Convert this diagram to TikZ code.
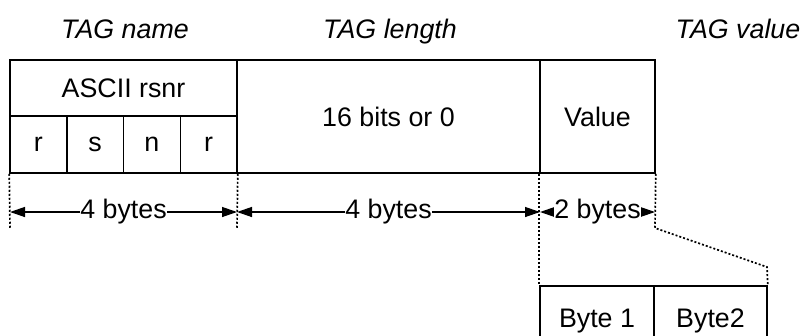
\documentclass[tikz,border=0pt]{standalone}
\usepackage{fontspec}
\setmainfont{Liberation Sans}
\usetikzlibrary{arrows.meta}
\begin{document}
\begin{tikzpicture}[x=1pt,y=-1pt,
  every node/.style={font=\fontsize{26.8}{30}\selectfont},
  cell/.style={draw,line width=1.5pt,rectangle,inner sep=0pt,anchor=center},
  title/.style={font=\fontsize{26.8}{30}\selectfont\itshape,inner sep=0pt},
  guide/.style={line width=1.7pt,dash pattern=on 2pt off 2pt},
  dimarrow/.style={line width=1.3pt,{Triangle[length=15pt,width=10pt]}-{Triangle[length=15pt,width=10pt]}},
  dimlabel/.style={fill=white,inner sep=0pt}]
\useasboundingbox (0,0) rectangle (802,335);
\clip (0,0) rectangle (802,335);
% titles
\node[title,anchor=base] (tname) at (125,38) {TAG name};
\node[title,anchor=base] (tlen) at (390,38) {TAG length};
\node[title,anchor=base] (tval) at (738,38) {TAG value};
% boxes
\node[cell,minimum width=227pt,minimum height=56pt] (ascii) at (123.5,88) {ASCII rsnr};
\node[cell,minimum width=56.75pt,minimum height=57pt] (c1) at (38.375,144.5) {r};
\node[cell,minimum width=56.75pt,minimum height=57pt] (c2) at (95.125,144.5) {s};
\node[cell,minimum width=56.75pt,minimum height=57pt] (c3) at (151.875,144.5) {n};
\node[cell,minimum width=56.75pt,minimum height=57pt] (c4) at (208.625,144.5) {r};
\node[cell,minimum width=303pt,minimum height=113pt] (len) at (388.5,116.5) {16 bits or 0};
\node[cell,minimum width=115pt,minimum height=113pt] (val) at (597.5,116.5) {Value};
\node[cell,minimum width=114pt,minimum height=70pt] (b1) at (597,321) {Byte 1};
\node[cell,minimum width=113pt,minimum height=70pt] (b2) at (710.5,321) {Byte2};
% guide coordinates
\coordinate (g1) at (10,228);
\coordinate (g2) at (237,228);
\coordinate (g4) at (655,228);
\coordinate (g5) at (767,267);
\draw[guide] (c1.south west) -- (g1);
\draw[guide] (c4.south east) -- (g2);
\draw[guide] (val.south west) -- (b1.north west);
\draw[guide] (val.south east) -- (g4) -- (g5) -- (b2.north east);
% dimension arrows
\coordinate (d1) at (10,212);
\coordinate (d2) at (237,212);
\coordinate (d3) at (540,212);
\coordinate (d4) at (655,212);
\draw[dimarrow] (d1) -- node[dimlabel] (l1) {4 bytes} (d2);
\draw[dimarrow] (d2) -- node[dimlabel] (l2) {4 bytes} (d3);
\draw[dimarrow] (d3) -- node[dimlabel] (l3) {2 bytes} (d4);
\end{tikzpicture}
\end{document}
